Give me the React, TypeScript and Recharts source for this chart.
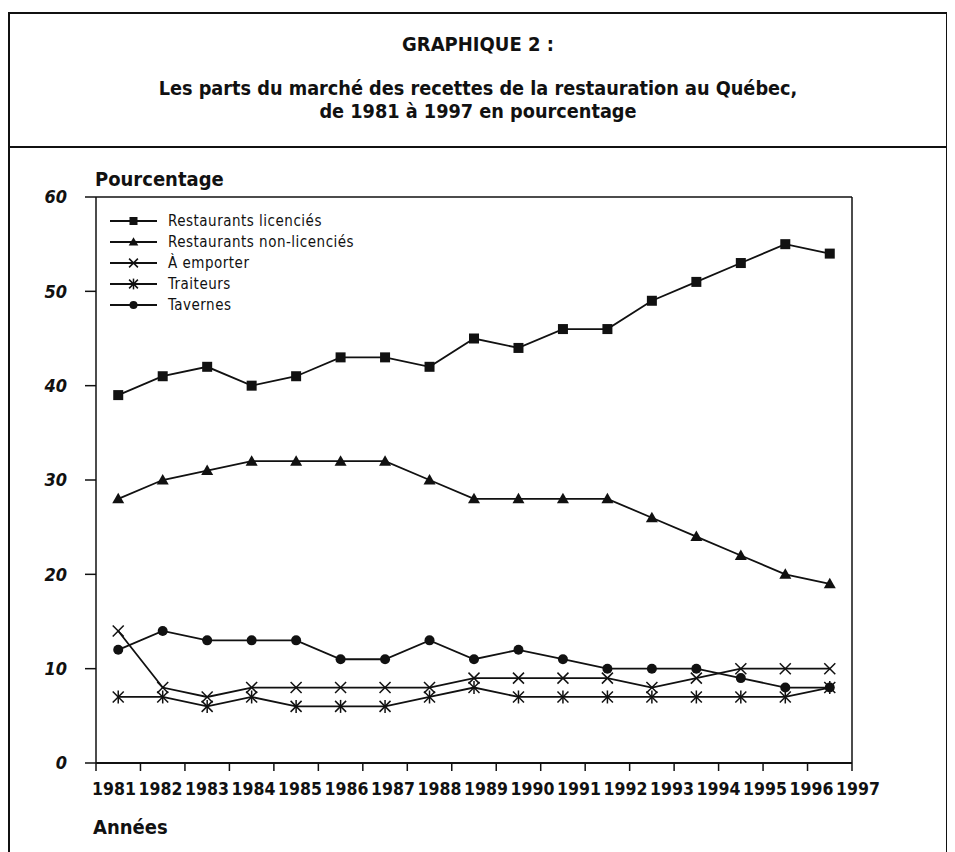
import { LineChart, Line, XAxis, YAxis, Legend, ReferenceLine } from 'recharts';

const years = [1981, 1982, 1983, 1984, 1985, 1986, 1987, 1988, 1989, 1990, 1991, 1992, 1993, 1994, 1995, 1996, 1997];
const licencies = [39, 41, 42, 40, 41, 43, 43, 42, 45, 44, 46, 46, 49, 51, 53, 55, 54];
const nonLicencies = [28, 30, 31, 32, 32, 32, 32, 30, 28, 28, 28, 28, 26, 24, 22, 20, 19];
const emporter = [14, 8, 7, 8, 8, 8, 8, 8, 9, 9, 9, 9, 8, 9, 10, 10, 10];
const traiteurs = [7, 7, 6, 7, 6, 6, 6, 7, 8, 7, 7, 7, 7, 7, 7, 7, 8];
const tavernes = [12, 14, 13, 13, 13, 11, 11, 13, 11, 12, 11, 10, 10, 10, 9, 8, 8];
const yTicks = [0, 10, 20, 30, 40, 50, 60];

const series = [
  { key: 'licencies', name: 'Restaurants licenciés', marker: 'square', values: licencies },
  { key: 'nonLicencies', name: 'Restaurants non-licenciés', marker: 'triangle', values: nonLicencies },
  { key: 'emporter', name: 'À emporter', marker: 'cross', values: emporter },
  { key: 'traiteurs', name: 'Traiteurs', marker: 'star', values: traiteurs },
  { key: 'tavernes', name: 'Tavernes', marker: 'circle', values: tavernes },
];

const data = years.map((year, i) => {
  const row: Record<string, number> = { year };
  series.forEach((s) => {
    row[s.key] = s.values[i];
  });
  return row;
});

// tick marks sit on the edges between years
const bandEdges = [...years.map((y) => y - 0.5), years[years.length - 1] + 0.5];

const FONT = "'DejaVu Sans Condensed', 'Liberation Sans Narrow', sans-serif";
const INK = '#111';

const Marker = ({ type, cx, cy, size = 1 }: { type: string; cx: number; cy: number; size?: number }) => {
  if (type === 'square') {
    const h = 5 * size;
    return <rect x={cx - h} y={cy - h} width={2 * h} height={2 * h} fill={INK} />;
  }
  if (type === 'triangle') {
    const w = 6 * size;
    return <polygon points={`${cx},${cy - w} ${cx - w},${cy + 0.75 * w} ${cx + w},${cy + 0.75 * w}`} fill={INK} />;
  }
  if (type === 'circle') return <circle cx={cx} cy={cy} r={5 * size} fill={INK} />;
  const d = 5.5 * size;
  return (
    <g stroke={INK} strokeWidth={1.5}>
      <line x1={cx - d} y1={cy - d} x2={cx + d} y2={cy + d} />
      <line x1={cx - d} y1={cy + d} x2={cx + d} y2={cy - d} />
      {type === 'star' && <line x1={cx} y1={cy - d - 1} x2={cx} y2={cy + d + 1} />}
    </g>
  );
};

const renderLegend = () => (
  <div style={{ fontFamily: FONT, fontSize: 15, letterSpacing: 0.5, color: INK }}>
    {series.map((s) => (
      <div key={s.key} style={{ display: 'flex', alignItems: 'center', height: 21 }}>
        <svg width={47} height={14}>
          <line x1={0} y1={7} x2={47} y2={7} stroke={INK} strokeWidth={1.8} />
          <Marker type={s.marker} cx={23.5} cy={7} size={0.8} />
        </svg>
        <span style={{ marginLeft: 11 }}>{s.name}</span>
      </div>
    ))}
  </div>
);

export default function App() {
  return (
    <div style={{ paddingTop: 4 }}>
      <div
        style={{
          position: 'relative',
          width: 940,
          height: 850,
          border: `2px solid ${INK}`,
          boxSizing: 'border-box',
          fontFamily: FONT,
          color: INK,
        }}
      >
        <div style={{ position: 'absolute', top: 18, left: 0, right: 0, textAlign: 'center', fontSize: 20, fontWeight: 700, lineHeight: '24px' }}>
          GRAPHIQUE 2 :
        </div>
        <div style={{ position: 'absolute', top: 63, left: 0, right: 0, textAlign: 'center', fontSize: 19.7, fontWeight: 700, lineHeight: '23px' }}>
          Les parts du marché des recettes de la restauration au Québec,
          <br />
          de 1981 à 1997 en pourcentage
        </div>
        <div style={{ position: 'absolute', top: 132, left: 0, right: 0, height: 2, background: INK }} />
        <div style={{ position: 'absolute', top: 153, left: 85, fontSize: 20, fontWeight: 700, lineHeight: '24px' }}>
          Pourcentage
        </div>
        <div style={{ position: 'absolute', top: 801, left: 83, fontSize: 20, fontWeight: 700, lineHeight: '24px' }}>
          Années
        </div>
        <div style={{ position: 'absolute', top: 134, left: 0 }}>
          <LineChart width={930} height={700} data={data} margin={{ top: 49, right: 88, bottom: 35, left: 0 }}>
            <XAxis
              xAxisId="a_main"
              type="number"
              dataKey="year"
              domain={[bandEdges[0], bandEdges[bandEdges.length - 1]]}
              ticks={bandEdges}
              interval={0}
              tickFormatter={() => ''}
              tickSize={8}
              height={10}
              axisLine={{ stroke: INK, strokeWidth: 2 }}
              tickLine={{ stroke: INK, strokeWidth: 1.5 }}
              allowDataOverflow
            />
            <XAxis
              xAxisId="b_labels"
              type="number"
              dataKey="year"
              domain={[years[0], years[years.length - 1]]}
              ticks={years}
              interval={0}
              padding={{ left: 18, right: -6 }}
              axisLine={false}
              tickLine={false}
              tickSize={4}
              tickMargin={6}
              height={40}
              tick={{ fontFamily: FONT, fontSize: 17.5, fontWeight: 700, fill: INK }}
            />
            <YAxis
              yAxisId="left"
              type="number"
              domain={[0, 60]}
              ticks={yTicks}
              interval={0}
              width={86}
              tickSize={11}
              tickMargin={18}
              axisLine={{ stroke: INK, strokeWidth: 1.5 }}
              tickLine={{ stroke: INK, strokeWidth: 1.5 }}
              tick={{ fontFamily: FONT, fontSize: 18, fontWeight: 700, fontStyle: 'italic', fill: INK }}
            />
            <ReferenceLine xAxisId="a_main" yAxisId="left" y={yTicks[yTicks.length - 1]} stroke={INK} strokeWidth={1.5} />
            <ReferenceLine xAxisId="a_main" yAxisId="left" x={bandEdges[bandEdges.length - 1]} stroke={INK} strokeWidth={1.5} />
            <Legend
              layout="vertical"
              align="center"
              verticalAlign="middle"
              content={renderLegend}
              wrapperStyle={{ position: 'absolute', left: 100, top: 62, width: 'auto', height: 'auto' }}
            />
            {/* invisible series so the label axis gets its domain from the data */}
            <Line
              xAxisId="b_labels"
              yAxisId="left"
              dataKey="licencies"
              stroke="none"
              dot={false}
              activeDot={false}
              legendType="none"
              isAnimationActive={false}
            />
            {series.map((s) => (
              <Line
                key={s.key}
                xAxisId="a_main"
                yAxisId="left"
                type="linear"
                dataKey={s.key}
                name={s.name}
                stroke={INK}
                strokeWidth={1.8}
                isAnimationActive={false}
                dot={(p: any) => <Marker key={`${s.key}-${p.index}`} type={s.marker} cx={p.cx} cy={p.cy} />}
              />
            ))}
          </LineChart>
        </div>
      </div>
    </div>
  );
}
